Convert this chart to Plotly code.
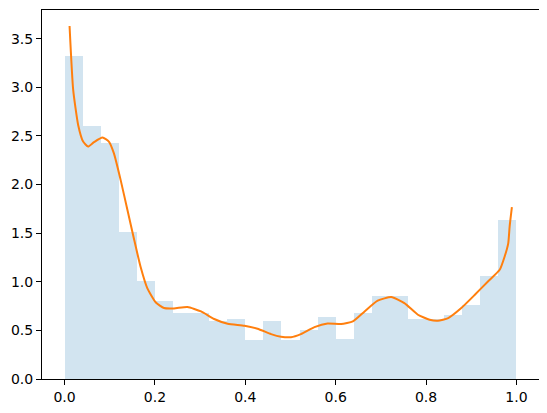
import plotly.graph_objects as go

# Histogram (density), 25 bins on [0, 1]
bin_edges = [i * 0.04 for i in range(26)]
bar_heights = [3.323, 2.603, 2.428, 1.513, 1.010, 0.805, 0.674, 0.674, 0.592, 0.620,
               0.397, 0.599, 0.397, 0.507, 0.633, 0.415, 0.681, 0.849, 0.856, 0.620,
               0.620, 0.661, 0.764, 1.062, 1.638]

# KDE curve
kde_x = [0.011, 0.019, 0.030, 0.041, 0.052, 0.065, 0.084, 0.098, 0.109, 0.124,
         0.139, 0.154, 0.168, 0.183, 0.202, 0.220, 0.242, 0.272, 0.302, 0.331,
         0.361, 0.398, 0.427, 0.457, 0.479, 0.501, 0.523, 0.553, 0.582, 0.612,
         0.638, 0.664, 0.693, 0.723, 0.752, 0.782, 0.808, 0.826, 0.849, 0.878,
         0.908, 0.937, 0.963, 0.974, 0.982, 0.985, 0.990]
kde_y = [3.631, 2.973, 2.613, 2.442, 2.391, 2.436, 2.483, 2.442, 2.323, 2.048,
         1.740, 1.432, 1.157, 0.935, 0.787, 0.730, 0.726, 0.740, 0.695, 0.617,
         0.568, 0.548, 0.517, 0.462, 0.435, 0.430, 0.462, 0.534, 0.571, 0.565,
         0.592, 0.695, 0.805, 0.843, 0.781, 0.661, 0.609, 0.599, 0.627, 0.730,
         0.866, 1.003, 1.123, 1.260, 1.398, 1.568, 1.768]

x_ticks = [0.0, 0.2, 0.4, 0.6, 0.8, 1.0]
y_ticks = [0.0, 0.5, 1.0, 1.5, 2.0, 2.5, 3.0, 3.5]

centers = [(bin_edges[i] + bin_edges[i + 1]) / 2 for i in range(len(bar_heights))]
widths = [bin_edges[i + 1] - bin_edges[i] for i in range(len(bar_heights))]

fig = go.Figure()
fig.add_trace(go.Bar(x=centers, y=bar_heights, width=widths,
                     marker=dict(color="rgba(31,119,180,0.2)", line=dict(width=0)),
                     showlegend=False))
fig.add_trace(go.Scatter(x=kde_x, y=kde_y, mode="lines",
                         line=dict(color="#ff7f0e", width=2, shape="spline", smoothing=0.5),
                         showlegend=False))

axis_common = dict(showline=True, linecolor="black", linewidth=1, mirror=True,
                   showgrid=False, zeroline=False, ticks="outside", ticklen=5,
                   tickwidth=1, tickcolor="black",
                   tickfont=dict(family="DejaVu Sans", size=14, color="black"))

# page body has an 8px margin, so the figure is offset by (8, 8)
fig.update_layout(
    width=539, height=405,
    margin=dict(l=34, r=8, t=2, b=34),
    plot_bgcolor="white", paper_bgcolor="white",
    bargap=0,
    xaxis=dict(range=[-0.05, 1.05], tickvals=x_ticks, tickformat=".1f", **axis_common),
    yaxis=dict(range=[0, 3.795], tickvals=y_ticks, tickformat=".1f", **axis_common),
)

fig.write_html("out.html")
